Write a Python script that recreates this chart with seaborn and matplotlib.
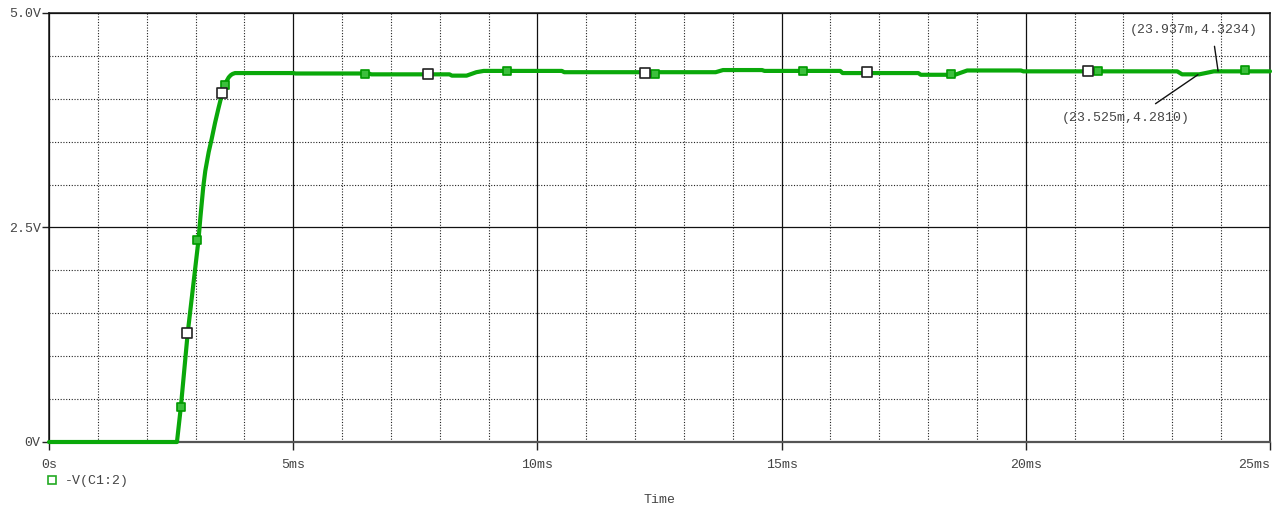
import numpy as np
import pandas as pd
import matplotlib
matplotlib.use("Agg")
import matplotlib.pyplot as plt
from matplotlib.lines import Line2D
from matplotlib.ticker import MultipleLocator
import seaborn as sns

# 波形数据 (时间 ms, 电压 V)
time_ms = [0.0, 2.62, 2.70, 2.84, 3.06, 3.10, 3.16, 3.20, 3.27, 3.33, 3.40, 3.47,
           3.54, 3.58, 3.64, 3.68, 3.72, 3.76, 3.81,
           5.00, 5.05, 6.55, 6.60, 8.20, 8.25, 8.55, 8.75, 8.90,
           10.50, 10.55, 13.65, 13.80, 14.60, 14.65, 16.20, 16.25, 17.80,
           17.85, 18.55, 18.80, 19.90, 19.95, 23.10, 23.20, 23.55, 23.85, 25.0]
volts = [0.0, 0.0, 0.41, 1.27, 2.35, 2.62, 2.98, 3.16, 3.38, 3.53, 3.72, 3.89,
         4.05, 4.13, 4.21, 4.25, 4.275, 4.29, 4.30,
         4.30, 4.295, 4.295, 4.285, 4.285, 4.27, 4.27, 4.31, 4.325,
         4.325, 4.31, 4.31, 4.335, 4.335, 4.325, 4.325, 4.30, 4.30,
         4.28, 4.28, 4.33, 4.33, 4.32, 4.32, 4.285, 4.285, 4.32, 4.32]

# 绿色标记点
green_t = [2.70, 3.03, 3.60, 6.47, 9.38, 12.41, 15.44, 18.47, 21.48, 24.49]
green_v = [0.41, 2.35, 4.16, 4.29, 4.32, 4.29, 4.32, 4.29, 4.32, 4.33]
# 白色标记点
white_t = [2.83, 3.54, 7.76, 12.20, 16.74, 21.27]
white_v = [1.27, 4.07, 4.29, 4.30, 4.316, 4.327]

x_ticks = [0, 5, 10, 15, 20, 25]
x_labels = ["0s", "5ms", "10ms", "15ms", "20ms", "25ms"]
y_ticks = [0, 2.5, 5.0]
y_labels = ["0V", "2.5V", "5.0V"]

# 光标标注
cursor1 = (23.937, 4.3234, "(23.937m,4.3234)")
cursor2 = (23.525, 4.2810, "(23.525m,4.2810)")

sns.set_theme(style="white")
plt.rcParams['font.family'] = ['Liberation Mono', 'DejaVu Sans Mono']

wave = pd.DataFrame({"t": time_ms, "v": volts})
gm = pd.DataFrame({"t": green_t, "v": green_v})
wm = pd.DataFrame({"t": white_t, "v": white_v})

fig = plt.figure(figsize=(12.82, 5.11), dpi=100)
ax = fig.add_axes([49 / 1282, 1 - 442 / 511, 1221 / 1282, 429 / 511])

line_green = "#0aa80a"
sns.lineplot(data=wave, x="t", y="v", ax=ax, color=line_green, lw=3, clip_on=False, zorder=3)
sns.scatterplot(data=gm, x="t", y="v", ax=ax, marker="s", s=40, color="#3cbf3c",
                edgecolor="#009900", linewidth=1.2, zorder=4)
sns.scatterplot(data=wm, x="t", y="v", ax=ax, marker="s", s=48, color="white",
                edgecolor="#222222", linewidth=1.2, zorder=5)

ax.set_xlim(0, 25)
ax.set_ylim(0, 5)
ax.set_xticks(x_ticks)
ax.set_xticklabels(x_labels)
ax.set_yticks(y_ticks)
ax.set_yticklabels(y_labels)
ax.get_xticklabels()[-1].set_ha("right")
ax.xaxis.set_minor_locator(MultipleLocator(1))
ax.yaxis.set_minor_locator(MultipleLocator(0.5))
ax.grid(which="major", color="#111111", lw=0.9, ls="-")
ax.grid(which="minor", color="#222222", lw=0.8, ls=(0, (1, 1.5)))
ax.set_axisbelow(True)
ax.set_xlabel("")
ax.set_ylabel("")

ax.tick_params(axis="x", which="major", direction="out", length=6, width=1, color="#222222",
               pad=6, labelsize=9.5, labelcolor="#444444", bottom=True)
ax.tick_params(axis="y", which="major", direction="out", length=5, width=1, color="#222222",
               pad=1, labelsize=9.5, labelcolor="#444444", left=True)
ax.tick_params(which="minor", length=0)

for side in ["top", "right", "left"]:
    ax.spines[side].set_color("#111111")
    ax.spines[side].set_linewidth(1.1)
ax.spines["bottom"].set_color("#555555")
ax.spines["bottom"].set_linewidth(1.6)

# 光标标注文字
ax.annotate(cursor1[2], xy=(cursor1[0], cursor1[1]), xytext=(23.44, 4.80),
            ha="center", va="center", fontsize=9.5, color="#444444",
            arrowprops=dict(arrowstyle="-", color="#111111", lw=1, relpos=(0.65, 0.0),
                            shrinkA=5, shrinkB=0))
ax.annotate(cursor2[2], xy=(cursor2[0], cursor2[1]), xytext=(22.05, 3.78),
            ha="center", va="center", fontsize=9.5, color="#444444",
            arrowprops=dict(arrowstyle="-", color="#111111", lw=1, relpos=(0.64, 1.0),
                            shrinkA=6, shrinkB=0))

# 图例
handle = Line2D([], [], ls="none", marker="s", markersize=6, markerfacecolor="white",
                markeredgecolor="#22aa22", markeredgewidth=1.2)
fig.legend([handle], ["-V(C1:2)"], loc="center left", bbox_to_anchor=(45 / 1282, 1 - 481 / 511),
           frameon=False, handlelength=1.0, handletextpad=0.5, fontsize=9.5,
           labelcolor="#444444", borderpad=0, borderaxespad=0)

fig.text(659 / 1282, 1 - 500 / 511, "Time", ha="center", va="center", fontsize=9.5, color="#444444")

fig.savefig("out.png", dpi=100)
